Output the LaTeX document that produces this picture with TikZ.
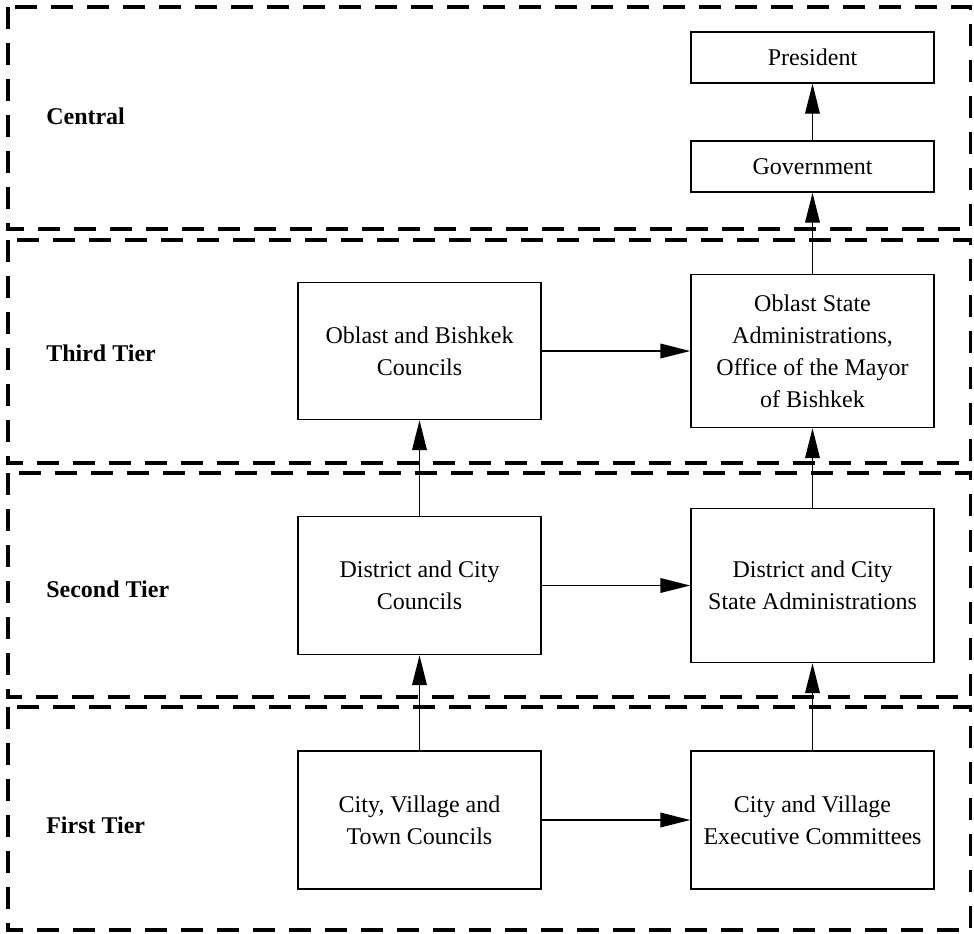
\documentclass[tikz,border=0pt]{standalone}
\usepackage{fontspec}
\setmainfont{Liberation Serif}
\usetikzlibrary{arrows.meta}
\begin{document}
\begin{tikzpicture}[x=0.75pt,y=-0.75pt,
  tier/.style={draw, line width=2.4pt, dash pattern=on 16.5pt off 10.5pt},
  box/.style={draw, line width=1.1pt, minimum width=182.25pt, inner sep=0pt, align=center, font=\fontsize{18}{24}\selectfont},
  tierlabel/.style={anchor=west, inner sep=0pt, font=\fontsize{18}{24}\selectfont\bfseries},
  conn/.style={line width=1.1pt, -{Triangle[length=22.5pt,width=11pt]}}]
\useasboundingbox (0,0) rectangle (974,933);
% tiers
\draw[tier] (8,7) rectangle (970.5,229);
\draw[tier] (8,240) rectangle (970.5,463);
\draw[tier] (8,473) rectangle (970.5,697);
\draw[tier] (8,707) rectangle (970.5,930);
% tier labels
\node[tierlabel] (lc) at (46,116) {Central};
\node[tierlabel] (l3) at (46,353) {Third Tier};
\node[tierlabel] (l2) at (46,589) {Second Tier};
\node[tierlabel] (l1) at (46,825) {First Tier};
% boxes
\node[box, minimum height=38.25pt] (pres) at (812.5,57.5) {President};
\node[box, minimum height=38.25pt] (gov) at (812.5,166.5) {Government};
\node[box, minimum height=114.75pt] (osa) at (812.5,351) {Oblast State\\Administrations,\\Office of the Mayor\\of Bishkek};
\node[box, minimum height=102.75pt] (obc) at (419.5,351) {Oblast and Bishkek\\Councils};
\node[box, minimum height=103.5pt] (dcc) at (419.5,585.5) {District and City\\Councils};
\node[box, minimum height=115.5pt] (dcsa) at (812.5,585.5) {District and City\\State Administrations};
\node[box, minimum height=103.5pt] (cvtc) at (419.5,820) {City, Village and\\Town Councils};
\node[box, minimum height=103.5pt] (cvec) at (812.5,820) {City and Village\\Executive Committees};
% connectors
\draw[conn] (gov) -- (pres);
\draw[conn] (osa) -- (gov);
\draw[conn] (obc) -- (osa);
\draw[conn] (dcc) -- (obc);
\draw[conn] (dcsa) -- (osa);
\draw[conn] (dcc) -- (dcsa);
\draw[conn] (cvtc) -- (dcc);
\draw[conn] (cvec) -- (dcsa);
\draw[conn] (cvtc) -- (cvec);
\end{tikzpicture}
\end{document}
